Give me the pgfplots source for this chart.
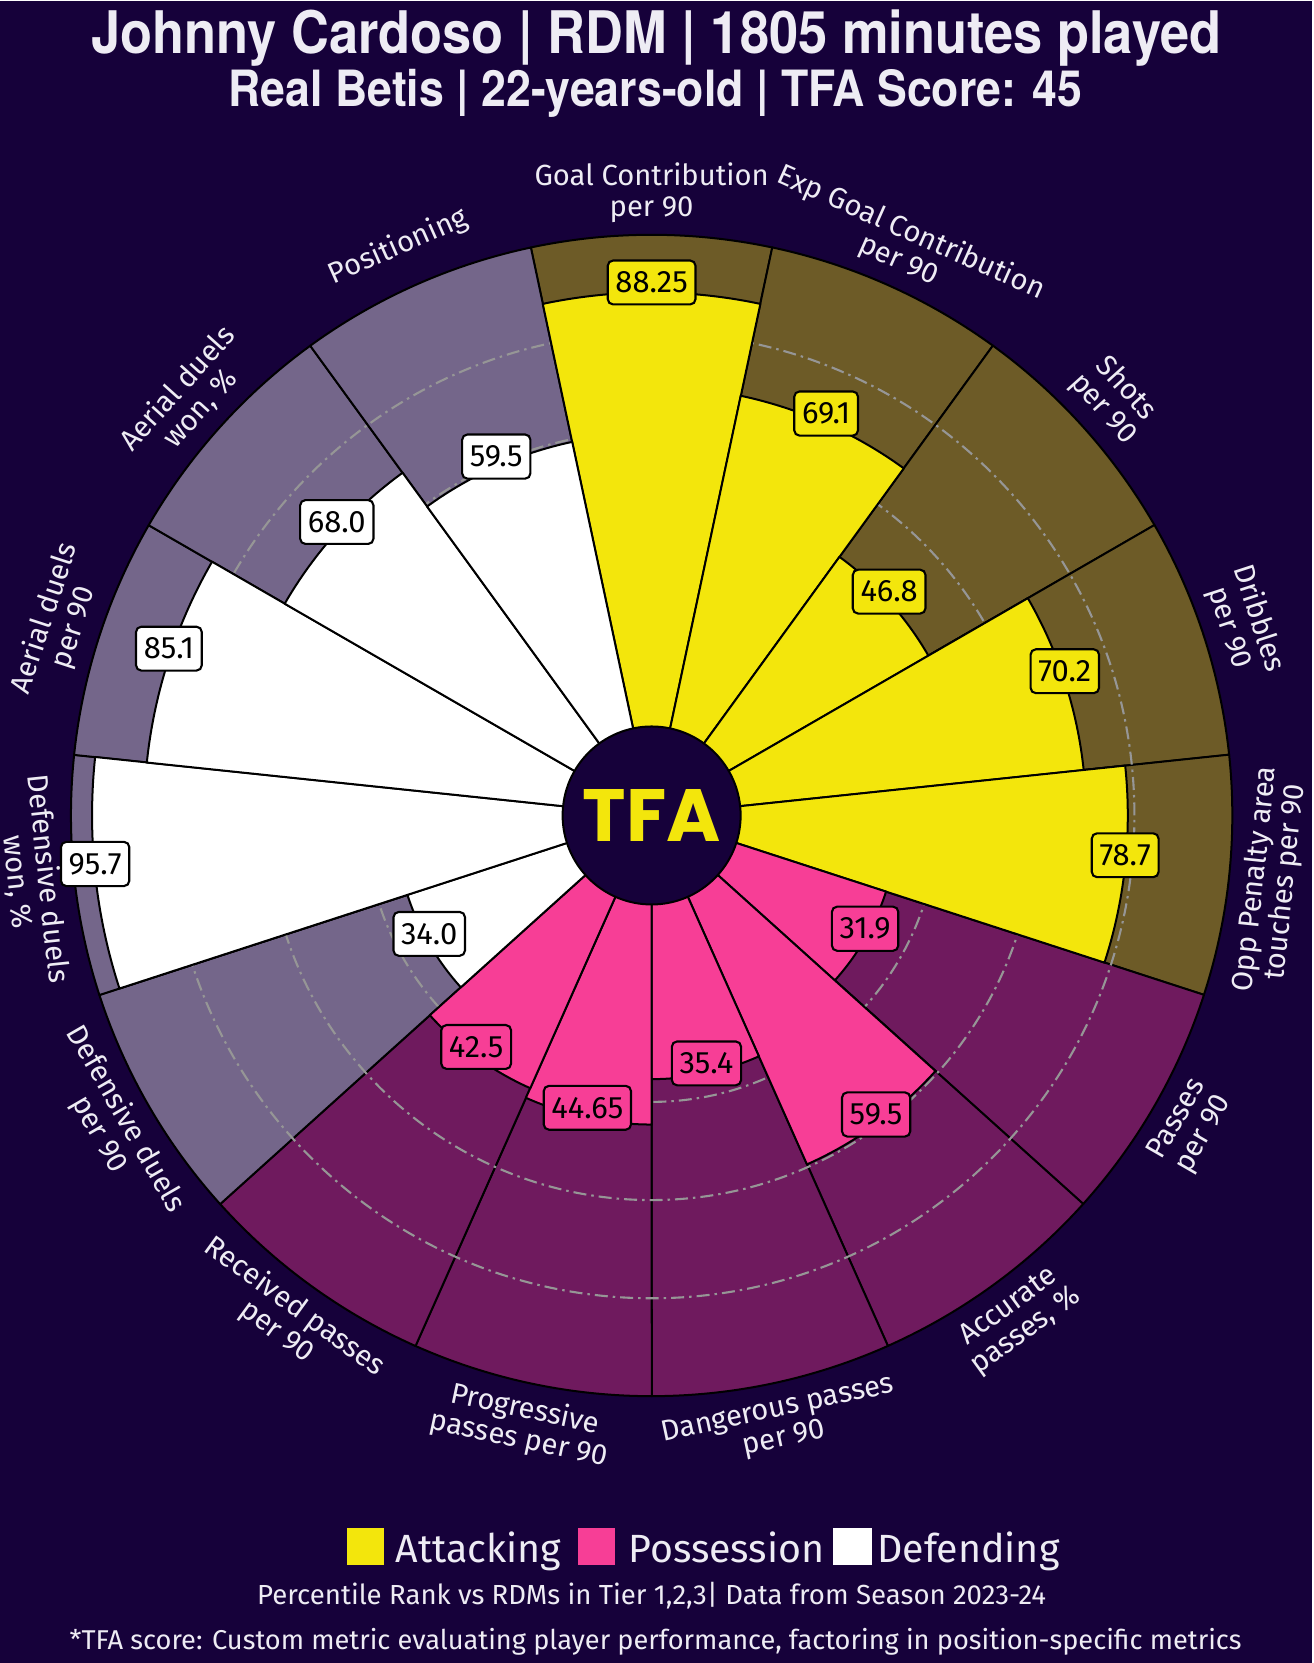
\documentclass[border=0pt]{standalone}
\usepackage{fontspec}
\usepackage{pgfplots}
\usepackage{pgfplotstable}
\pgfplotsset{compat=1.18}
\setmainfont{Fira Sans}
\newfontfamily\titlefont{TeX Gyre Heros}
\newfontfamily\logofont{Poppins}

\definecolor{bgc}{RGB}{22,1,58}
\definecolor{attbar}{RGB}{243,230,12}
\definecolor{attbg}{RGB}{109,91,39}
\definecolor{posbar}{RGB}{247,62,150}
\definecolor{posbg}{RGB}{111,26,94}
\definecolor{defbar}{RGB}{255,255,255}
\definecolor{defbg}{RGB}{116,102,138}
\definecolor{lbl}{RGB}{238,236,244}
\definecolor{gridc}{RGB}{150,150,150}

% slice centre angle (deg) and percentile value
\pgfplotstableread{
ang val
90 88.25
66 69.1
42 46.8
18 70.2
-6 78.7
}\attack
\pgfplotstableread{
ang val
-30 31.9
-54 59.5
-78 35.4
-102 44.65
-126 42.5
}\possess
\pgfplotstableread{
ang val
-150 34.0
-174 95.7
-198 85.1
-222 68.0
-246 59.5
}\defend

\newcommand\drawbg[2]{%
  \pgfplotstablegetrowsof{#1}%
  \pgfmathtruncatemacro\nrows{\pgfplotsretval-1}%
  \foreach \i in {0,...,\nrows}{%
    \pgfplotstablegetelem{\i}{ang}\of{#1}\let\A\pgfplotsretval
    \filldraw[fill=#2, draw=black, line width=0.57pt, line join=round]
      (axis cs:0,0) -- (axis cs:{581*cos(\A-12)},{581*sin(\A-12)})
      arc[start angle=\A-12, end angle=\A+12, radius=5.81cm] -- cycle;
  }}
\newcommand\drawbars[2]{%
  \pgfplotstablegetrowsof{#1}%
  \pgfmathtruncatemacro\nrows{\pgfplotsretval-1}%
  \foreach \i in {0,...,\nrows}{%
    \pgfplotstablegetelem{\i}{ang}\of{#1}\let\A\pgfplotsretval
    \pgfplotstablegetelem{\i}{val}\of{#1}\let\V\pgfplotsretval
    \pgfmathsetmacro\rb{90+4.91*\V}%
    \pgfmathsetmacro\rbcm{\rb/100}%
    \filldraw[fill=#2, draw=black, line width=0.57pt, line join=round]
      (axis cs:0,0) -- (axis cs:{\rb*cos(\A-12)},{\rb*sin(\A-12)})
      arc[start angle=\A-12, end angle=\A+12, radius=\rbcm cm] -- cycle;
  }}

\tikzset{valbox/.style={anchor=center, draw=black, text=black, line width=0.6pt,
  rounded corners=1.5pt, inner xsep=2.2pt, inner ysep=3.2pt,
  font=\fontsize{8.8}{9}\selectfont}}

\begin{document}
\begin{tikzpicture}
\useasboundingbox (0,0) rectangle (13.13cm,16.63cm);
\begin{axis}[
  at={(0,0)}, anchor=south west,
  x=0.01cm, y=0.01cm,
  xmin=-652, xmax=661, ymin=-848, ymax=815,
  hide axis, clip=false,
]
\pgfplotsextra{
  \fill[bgc] (axis cs:-652,-848) rectangle (axis cs:661,815);
  \drawbg{\attack}{attbg}
  \drawbg{\possess}{posbg}
  \drawbg{\defend}{defbg}
  \foreach \r in {1.882,2.864,3.846,4.828}{
    \draw[gridc, line width=0.6pt, dash pattern=on 0.13cm off 0.05cm on 0.025cm off 0.05cm]
      (axis cs:0,0) circle[radius=\r cm];
  }
  \drawbars{\attack}{attbar}
  \drawbars{\possess}{posbar}
  \drawbars{\defend}{defbar}
  \filldraw[fill=bgc, draw=black, line width=0.57pt] (axis cs:0,0) circle[radius=0.89cm];
  \node[text=attbar, inner sep=0pt] at (axis cs:0,0) {\resizebox{1.38cm}{0.52cm}{\logofont\bfseries TFA}};
}

\addplot[draw=none, mark=none, nodes near coords, point meta=explicit symbolic,
  nodes near coords style={valbox, fill=attbar}]
  table[x expr={(90+4.91*\thisrow{val})*cos(\thisrow{ang})},
        y expr={(90+4.91*\thisrow{val})*sin(\thisrow{ang})+10}, meta=val] {\attack};
\addplot[draw=none, mark=none, nodes near coords, point meta=explicit symbolic,
  nodes near coords style={valbox, fill=posbar}]
  table[x expr={(90+4.91*\thisrow{val})*cos(\thisrow{ang})},
        y expr={(90+4.91*\thisrow{val})*sin(\thisrow{ang})+10}, meta=val] {\possess};
\addplot[draw=none, mark=none, nodes near coords, point meta=explicit symbolic,
  nodes near coords style={valbox, fill=defbar}]
  table[x expr={(90+4.91*\thisrow{val})*cos(\thisrow{ang})},
        y expr={(90+4.91*\thisrow{val})*sin(\thisrow{ang})+10}, meta=val] {\defend};

\pgfplotsextra{
  \foreach \a/\t in {90/{Goal Contribution\\per 90},
                     66/{Exp Goal Contribution\\per 90},
                     42/{Shots\\per 90},
                     18/{Dribbles\\per 90},
                     -6/{Opp Penalty area\\touches per 90},
                     -30/{Passes\\per 90},
                     -54/{Accurate\\passes, \%},
                     -78/{Dangerous passes\\per 90},
                     -102/{Progressive\\passes per 90},
                     -126/{Received passes\\per 90},
                     -150/{Defensive duels\\per 90},
                     -174/{Defensive duels\\won, \%},
                     -198/{Aerial duels\\per 90},
                     -222/{Aerial duels\\won, \%},
                     -246/{Positioning}}{
    \pgfmathsetmacro\rot{sin(\a)>0 ? \a-90 : \a+90}
    \node[rotate=\rot, align=center, text=lbl, inner sep=0pt,
          font=\fontsize{8.3}{8.6}\selectfont]
      at (axis cs:{623*cos(\a)},{623*sin(\a)}) {\t};
  }
  % titles
  \node[text=lbl, inner sep=0pt] at (axis cs:5,778)
    {\scalebox{1}[1.12]{\resizebox{11.3cm}{!}{\titlefont\bfseries Johnny Cardoso | RDM | 1805 minutes played}}};
  \node[text=lbl, inner sep=0pt] at (axis cs:4,723)
    {\scalebox{1}[1.12]{\resizebox{8.54cm}{!}{\titlefont\bfseries Real Betis | 22-years-old | TFA Score: 45}}};
  % legend
  \fill[attbar] (axis cs:-305,-750) rectangle (axis cs:-268,-713);
  \fill[posbar] (axis cs:-74,-750) rectangle (axis cs:-37,-713);
  \fill[defbar] (axis cs:181,-750) rectangle (axis cs:220,-713);
  \node[anchor=base west, text=lbl, inner sep=0pt, font=\fontsize{11.2}{12}\selectfont] at (axis cs:-257,-747) {Attacking};
  \node[anchor=base west, text=lbl, inner sep=0pt, font=\fontsize{11.2}{12}\selectfont] at (axis cs:-24,-747) {Possession};
  \node[anchor=base west, text=lbl, inner sep=0pt, font=\fontsize{11.2}{12}\selectfont] at (axis cs:225,-747) {Defending};
  % footers
  \node[text=lbl, inner sep=0pt] at (axis cs:0,-781)
    {\resizebox{7.89cm}{!}{Percentile Rank vs RDMs in Tier 1,2,3| Data from Season 2023-24}};
  \node[text=lbl, inner sep=0pt] at (axis cs:4,-827)
    {\resizebox{11.72cm}{!}{*TFA score: Custom metric evaluating player performance, factoring in position-specific metrics}};
}
\end{axis}
\end{tikzpicture}
\end{document}
